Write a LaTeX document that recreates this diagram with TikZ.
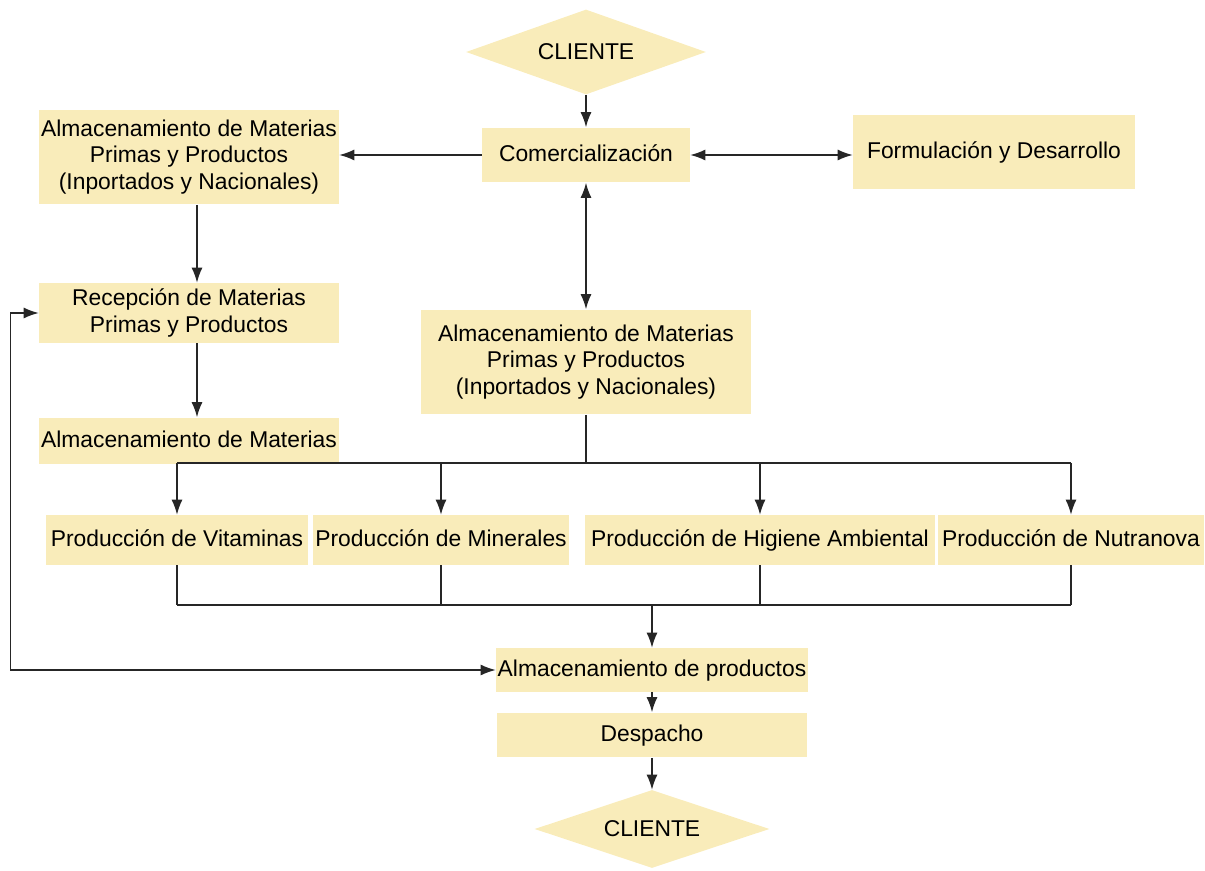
\documentclass[tikz,border=0pt]{standalone}
\usepackage{fontspec}
\setmainfont{Liberation Sans}
\usetikzlibrary{shapes.geometric,arrows.meta}
\definecolor{crema}{RGB}{249,236,186}
\tikzset{
  caja/.style={fill=crema, align=center, inner xsep=1pt, inner ysep=2pt,
    font=\fontsize{13}{15}\selectfont},
  una/.style={caja, text height=0.72em, text depth=0pt},
  rombo/.style={diamond, fill=crema, inner sep=0pt, aspect=2.8,
    font=\fontsize{13}{15}\selectfont},
  linea/.style={draw=black!85, line width=0.75pt},
  flecha/.style={linea, -{Latex[length=3mm,width=2.2mm]}},
  dflecha/.style={linea, {Latex[length=3mm,width=2.2mm]}-{Latex[length=3mm,width=2.2mm]}}
}
\begin{document}
\begin{tikzpicture}[x=0.02cm, y=-0.02cm]
      \useasboundingbox (0,0) rectangle (1205,871) ;
      % parte superior
      \node[rombo, minimum width=4.8cm, minimum height=1.7cm] (cli1) at (586,52) {CLIENTE} ;
      \node[una, minimum width=4.16cm, minimum height=1.1cm] (com) at (586,155) {Comercialización} ;
      \node[una, minimum width=5.64cm, minimum height=1.5cm] (form) at (994,152) {Formulación y Desarrollo} ;
      \node[caja, minimum width=6cm, minimum height=1.9cm] (almA) at (189,157)
        {Almacenamiento de Materias\\Primas y Productos\\(Inportados y Nacionales)} ;
      \node[caja, minimum width=6cm, minimum height=1.2cm] (recep) at (189,313)
        {Recepción de Materias\\Primas y Productos} ;
      \node[una, minimum width=6cm, minimum height=0.94cm] (almM) at (189,441) {Almacenamiento de Materias} ;
      \node[caja, minimum width=6.6cm, minimum height=2.1cm] (almC) at (586,362)
        {Almacenamiento de Materias\\Primas y Productos\\(Inportados y Nacionales)} ;
      % produccion
      \node[una, minimum width=5.26cm, minimum height=1cm] (vit) at (177,540) {Producción de Vitaminas} ;
      \node[una, minimum width=5.14cm, minimum height=1cm] (mine) at (441,540) {Producción de Minerales} ;
      \node[una, minimum width=7cm, minimum height=1cm] (hig) at (760,540) {Producción de Higiene Ambiental} ;
      \node[una, minimum width=5.34cm, minimum height=1cm] (nut) at (1071,540) {Producción de Nutranova} ;
      % parte inferior
      \node[una, minimum width=6.22cm, minimum height=0.88cm] (almP) at (652,670) {Almacenamiento de productos} ;
      \node[una, minimum width=6.22cm, minimum height=0.9cm] (desp) at (652,735) {Despacho} ;
      \node[rombo, minimum width=4.7cm, minimum height=1.56cm] (cli2) at (652,829) {CLIENTE} ;
      \coordinate (rama) at (586,463) ;
      \coordinate (junta) at (652,605) ;
      % conexiones
      \draw[flecha] (cli1) -- (com) ;
      \draw[flecha] (com.west) -- (com.west -| almA.east) ;
      \draw[dflecha] (com.east) -- (com.east -| form.west) ;
      \draw[flecha] ([xshift=0.16cm]almA.south) -- ([xshift=0.16cm]recep.north) ;
      \draw[flecha] ([xshift=0.16cm]recep.south) -- ([xshift=0.16cm]almM.north) ;
      \draw[dflecha] (com) -- (almC) ;
      \draw[linea] (almC) -- (rama) ;
      \draw[linea] (vit.north |- rama) -- (nut.north |- rama) ;
      \foreach \p in {vit,mine,hig,nut} {
        \draw[flecha] (\p.north |- rama) -- (\p.north) ;
        \draw[linea] (\p.south) -- (\p.south |- junta) ;
      }
      \draw[linea] (vit.south |- junta) -- (nut.south |- junta) ;
      \draw[flecha] (junta) -- (almP) ;
      \draw[flecha] (almP) -- (desp) ;
      \draw[flecha] (desp) -- (cli2) ;
      \draw[dflecha] (almP.west) -| ([xshift=-0.56cm]recep.west) -- (recep.west) ;
\end{tikzpicture}
\end{document}
